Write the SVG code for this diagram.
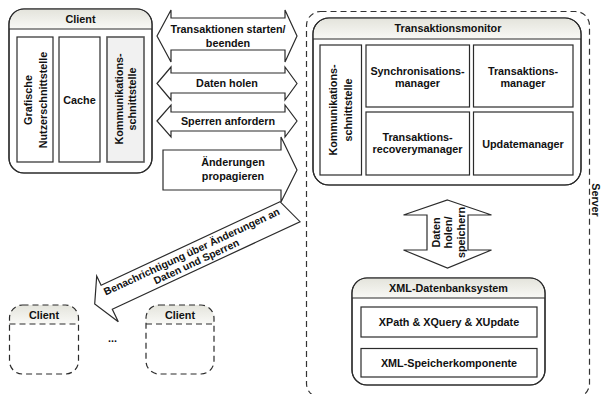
<svg xmlns="http://www.w3.org/2000/svg" width="601" height="394" viewBox="0 0 601 394">
<defs>
<linearGradient id="hg" x1="0" y1="0" x2="0" y2="1">
<stop offset="0" stop-color="#e4e4dc"/>
<stop offset="1" stop-color="#f9f9f6"/>
</linearGradient>
</defs>
<style>
.box{fill:#fff;stroke:#2b2b2b;stroke-width:1.2}
.inner{fill:#fff;stroke:#2b2b2b;stroke-width:1.2}
.grey{fill:#f1f1f1;stroke:#555;stroke-width:1.6}
.hdr{fill:url(#hg);stroke:none}
.sep{stroke:#2b2b2b;stroke-width:1.2;fill:none}
.dash{stroke-dasharray:6 4}
.t{font-family:"Liberation Sans",Arial,sans-serif;font-weight:bold;font-size:10.8px;fill:#111;text-anchor:middle}
.arrow{fill:#fff;stroke:#2b2b2b;stroke-width:1.2;stroke-linejoin:miter}
</style>
<rect width="601" height="394" fill="#fff"/>

<g id="server">
<rect x="306.5" y="11.5" width="283" height="386" rx="14" ry="14" fill="none" stroke="#333" stroke-width="1.2" class="dash"/>
<text class="t" transform="translate(592,200) rotate(90)">Server</text>
</g>

<g id="client">
<rect class="box" x="9" y="9" width="143" height="164" rx="15" ry="15"/>
<path class="hdr" d="M9.6,29 V24 A15,15 0 0 1 24,9.6 H137 A15,15 0 0 1 151.4,24 V29 Z"/>
<rect x="9" y="9" width="143" height="164" rx="15" ry="15" fill="none" stroke="#2b2b2b" stroke-width="1.2"/>
<line class="sep" x1="9" y1="29" x2="152" y2="29"/>
<text class="t" x="80.5" y="23">Client</text>
<g id="client-gui">
<rect class="inner" x="17" y="37" width="36" height="125"/>
<text class="t" transform="translate(32.2,100) rotate(-90)">Grafische</text>
<text class="t" transform="translate(46.6,100) rotate(-90)">Nutzerschnittstelle</text>
</g>
<g id="client-cache">
<rect class="inner" x="59" y="37" width="41" height="125"/>
<text class="t" x="79.5" y="104">Cache</text>
</g>
<g id="client-komm">
<rect class="grey" x="107" y="37" width="37" height="125"/>
<text class="t" transform="translate(123,99) rotate(-90)">Kommunikations-</text>
<text class="t" transform="translate(136.4,99) rotate(-90)">schnittstelle</text>
</g>
</g>

<g id="transaktionsmonitor">
<rect class="box" x="313" y="18" width="268" height="167" rx="16" ry="16"/>
<path class="hdr" d="M313.6,39 V34 A16,16 0 0 1 329,18.6 H565 A16,16 0 0 1 580.4,34 V39 Z"/>
<rect x="313" y="18" width="268" height="167" rx="16" ry="16" fill="none" stroke="#2b2b2b" stroke-width="1.2"/>
<line class="sep" x1="313" y1="39" x2="581" y2="39"/>
<text class="t" x="448" y="32">Transaktionsmonitor</text>
<g id="tm-komm">
<rect class="inner" x="320" y="45" width="41.5" height="130"/>
<text class="t" transform="translate(337.2,110) rotate(-90)">Kommunikations-</text>
<text class="t" transform="translate(352.2,110) rotate(-90)">schnittstelle</text>
</g>
<g id="tm-sync">
<rect class="inner" x="366" y="45" width="103.5" height="62"/>
<text class="t" x="417.5" y="74.5">Synchronisations-</text>
<text class="t" x="417.5" y="86.5">manager</text>
</g>
<g id="tm-tm">
<rect class="inner" x="473.5" y="45" width="99.5" height="62"/>
<text class="t" x="523" y="74.5">Transaktions-</text>
<text class="t" x="523" y="86.5">manager</text>
</g>
<g id="tm-recovery">
<rect class="inner" x="366" y="112" width="103.5" height="63"/>
<text class="t" x="417.5" y="140.5">Transaktions-</text>
<text class="t" x="417.5" y="153">recoverymanager</text>
</g>
<g id="tm-update">
<rect class="inner" x="473.5" y="112" width="99.5" height="63"/>
<text class="t" x="523" y="148">Updatemanager</text>
</g>
</g>

<g id="xml-db">
<rect class="box" x="352" y="278" width="193" height="107" rx="15" ry="15"/>
<path class="hdr" d="M352.6,298 V293 A15,15 0 0 1 367,278.6 H530 A15,15 0 0 1 544.4,293 V298 Z"/>
<rect x="352" y="278" width="193" height="107" rx="15" ry="15" fill="none" stroke="#2b2b2b" stroke-width="1.2"/>
<line class="sep" x1="352" y1="298" x2="545" y2="298"/>
<text class="t" x="448.5" y="292">XML-Datenbanksystem</text>
<g id="xml-query">
<rect class="inner" x="361" y="307" width="176" height="30"/>
<text class="t" x="449" y="326">XPath &amp; XQuery &amp; XUpdate</text>
</g>
<g id="xml-store">
<rect class="inner" x="361" y="348.5" width="176" height="28.5"/>
<text class="t" x="449" y="366.5">XML-Speicherkomponente</text>
</g>
</g>

<g id="client-2">
<rect x="9.5" y="305" width="69" height="69" rx="13" ry="13" fill="#fff" stroke="none"/>
<path class="hdr" d="M9.5,324 V318 A13,13 0 0 1 22.5,305 H65.5 A13,13 0 0 1 78.5,318 V324 Z"/>
<rect class="dash" x="9.5" y="305" width="69" height="69" rx="13" ry="13" fill="none" stroke="#2b2b2b" stroke-width="1.2"/>
<line class="sep dash" x1="9.5" y1="324" x2="78.5" y2="324"/>
<text class="t" x="44" y="319">Client</text>
</g>
<g id="client-3">
<rect x="146" y="305" width="68" height="69" rx="13" ry="13" fill="#fff" stroke="none"/>
<path class="hdr" d="M146,324 V318 A13,13 0 0 1 159,305 H201 A13,13 0 0 1 214,318 V324 Z"/>
<rect class="dash" x="146" y="305" width="68" height="69" rx="13" ry="13" fill="none" stroke="#2b2b2b" stroke-width="1.2"/>
<line class="sep dash" x1="146" y1="324" x2="214" y2="324"/>
<text class="t" x="180" y="319">Client</text>
</g>
<g id="ellipsis">
<text class="t" x="112.5" y="342">...</text>
</g>

<g id="connectors">
<g id="arrow-transaktionen">
<polygon class="arrow" points="157,36 171,10 171,18 285,18 285,10 297,36 285,62 285,50 171,50 171,62"/>
<text class="t" x="228" y="33">Transaktionen starten/</text>
<text class="t" x="228" y="47">beenden</text>
</g>
<g id="arrow-daten">
<polygon class="arrow" points="157,83.5 171,67 171,73 285,73 285,67 297,83.5 285,100 285,93 171,93 171,100"/>
<text class="t" x="227" y="87">Daten holen</text>
</g>
<g id="arrow-sperren">
<polygon class="arrow" points="157,121 171,105 171,112 285,112 285,105 297,121 285,137 285,131 171,131 171,137"/>
<text class="t" x="228" y="125">Sperren anfordern</text>
</g>
<g id="arrow-aenderungen">
<polygon class="arrow" points="163,150 281,150 281,137 297,170 281,202 281,190 163,190"/>
<text class="t" x="233" y="166">Änderungen</text>
<text class="t" x="233" y="180">propagieren</text>
</g>
<g id="arrow-benachrichtigung">
<polygon class="arrow" points="280,201.7 101.1,285.2 96.7,276 94.7,304 118.3,321.7 112.3,309.3 300,221.7"/>
<g transform="translate(194,256.5) rotate(-25)">
<text class="t" style="font-size:10.4px" x="0" y="-1.8">Benachrichtigung über Änderungen an</text>
<text class="t" style="font-size:10.4px" x="0" y="9.2">Daten und Sperren</text>
</g>
</g>
<g id="arrow-db">
<polygon class="arrow" points="447.5,200 491.5,215 468,215 468,250 491.5,250 447.5,268 403.5,250 427,250 427,215 403.5,215"/>
<text class="t" transform="translate(440,232.5) rotate(-90)">Daten</text>
<text class="t" transform="translate(452.2,232.5) rotate(-90)">holen/</text>
<text class="t" transform="translate(464.5,232.5) rotate(-90)">speichern</text>
</g>
</g>
</svg>
